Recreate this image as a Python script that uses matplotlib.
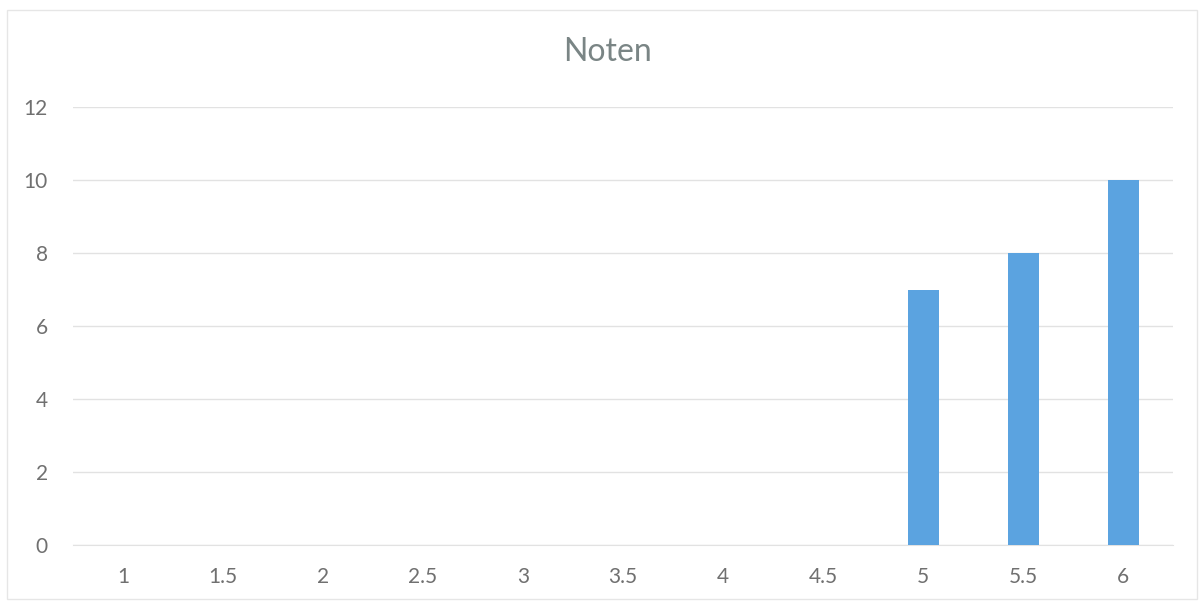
import numpy as np
import matplotlib.pyplot as plt

# Noten und Anzahl
noten = ['1', '1.5', '2', '2.5', '3', '3.5', '4', '4.5', '5', '5.5', '6']
anzahl = [0, 0, 0, 0, 0, 0, 0, 0, 7, 8, 10]
y_ticks = [0, 2, 4, 6, 8, 10, 12]

bar_color = '#5ba3e0'
text_color = '#707070'
title_color = '#7a8585'
grid_color = '#e2e2e2'

fig = plt.figure(figsize=(11.99, 6.01), dpi=100)
ax = fig.add_axes([73 / 1199, 56 / 601, 1100 / 1199, 438 / 601])

x = np.arange(len(noten))
ax.bar(x, anzahl, width=0.31, color=bar_color, zorder=3)

ax.set_xlim(-0.5, len(noten) - 0.5)
ax.set_ylim(0, 12)
ax.set_xticks(x)
ax.set_xticklabels(noten, fontsize=15, color=text_color, family='Lato')
ax.set_yticks(y_ticks)
ax.set_yticklabels([str(v) for v in y_ticks], fontsize=15, color=text_color, family='Lato')
ax.tick_params(axis='x', length=0, pad=16)
ax.tick_params(axis='y', length=0, pad=18)

ax.grid(axis='y', color=grid_color, linewidth=1, zorder=0)
for side in ['top', 'right', 'left']:
    ax.spines[side].set_visible(False)
ax.spines['bottom'].set_color(grid_color)

fig.text(607 / 1199, 1 - 52 / 601, 'Noten', ha='center', va='center', fontsize=23,
         color=title_color, family='Lato')

# Rahmen um das Diagramm
fig.patches.append(plt.Rectangle((0.006, 0.003), 0.992, 0.98, transform=fig.transFigure,
                                 fill=False, edgecolor='#e6e6e6', linewidth=1))

fig.savefig('out.png', dpi=100)
